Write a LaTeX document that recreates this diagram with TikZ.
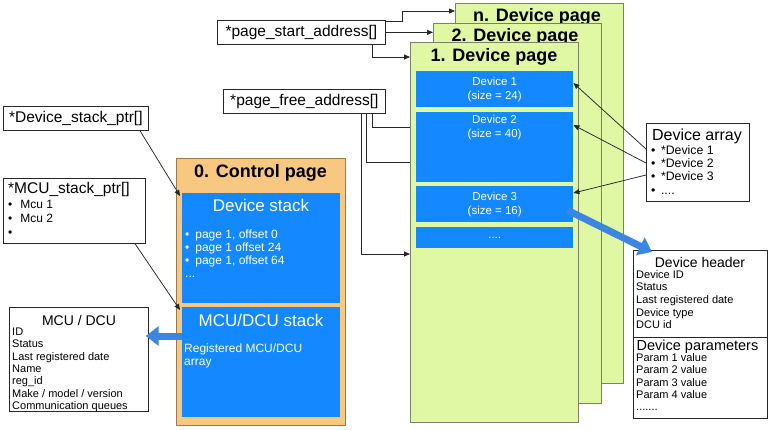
\documentclass[tikz,border=0pt]{standalone}
\usepackage{fontspec}
\setmainfont{Liberation Sans}
\usetikzlibrary{arrows.meta}
\definecolor{pagegreen}{HTML}{E0F8A4}
\definecolor{pageedge}{HTML}{7C8066}
\definecolor{blockblue}{HTML}{1488FF}
\definecolor{ctrlorange}{HTML}{F8C880}
\definecolor{ctrledge}{HTML}{9A7A4A}
\definecolor{fatblue}{HTML}{3A86E2}
\begin{document}
\begin{tikzpicture}[x=1pt,y=-1pt,
  devpage/.style={draw=pageedge,fill=pagegreen,line width=0.9pt,anchor=north west,inner sep=0pt,
    minimum width=167.5pt,minimum height=380pt},
  pagetitle/.style={inner sep=0pt,font=\fontsize{18}{20}\selectfont\bfseries},
  block/.style={fill=blockblue,anchor=north west,inner sep=0pt,minimum width=157pt,
    text=white,align=center,font=\fontsize{11.5}{14}\selectfont},
  stackblock/.style={fill=blockblue,anchor=north west,inner sep=0pt,minimum width=158pt,minimum height=110pt},
  stacktitle/.style={inner sep=0pt,text=white,font=\fontsize{17}{20}\selectfont},
  stacktxt/.style={inner sep=0pt,anchor=mid west,text=white,font=\fontsize{12}{14}\selectfont},
  box/.style={draw=black!85,fill=white,line width=0.7pt,anchor=north west,inner sep=0pt},
  boxtitle/.style={inner sep=0pt,font=\fontsize{15.5}{18}\selectfont},
  subtitle/.style={inner sep=0pt,font=\fontsize{14.5}{17}\selectfont},
  listtxt/.style={inner sep=0pt,anchor=mid west,font=\fontsize{11}{13}\selectfont},
  itemtxt/.style={inner sep=0pt,anchor=mid west,font=\fontsize{12.3}{14}\selectfont},
  ptr/.style={draw=black!85,line width=0.75pt,-{Triangle[length=6pt,width=5pt]}},
  wire/.style={draw=black!85,line width=0.75pt},
  fat/.style={draw=fatblue,line width=7pt,-{Triangle[length=13pt,width=19pt]}}
]
\useasboundingbox (0,0) rectangle (770,429);

% device pages, back to front
\node[devpage] (pn) at (455,3) {};
\node[pagetitle] (pnt) at (537,17) {n. Device page};
\node[devpage] (p2) at (433,23) {};
\node[pagetitle] (p2t) at (515,37) {2. Device page};
\node[devpage] (p1) at (410,42) {};
\node[pagetitle] (p1t) at (494,57) {1. Device page};

\node[block,minimum height=36pt] (d1) at (416,71) {Device 1\\(size = 24)};
\node[block,minimum height=70pt] (d2) at (416,112) {};
\node[inner sep=0pt,text=white,align=center,font=\fontsize{11.5}{14}\selectfont] (d2t) at (494.5,128) {Device 2\\(size = 40)};
\node[block,minimum height=36pt] (d3) at (416,186) {Device 3\\(size = 16)};
\node[block,minimum height=21pt] (d4) at (416,227) {....};

% control page
\node[draw=ctrledge,fill=ctrlorange,line width=0.9pt,anchor=north west,inner sep=0pt,
  minimum width=169pt,minimum height=267pt] (cpage) at (176,158) {};
\node[pagetitle] (cpaget) at (260.5,173) {0. Control page};
\node[stackblock] (dstack) at (182,193) {};
\node[stacktitle] (dstackt) at (261,205) {Device stack};
\foreach \t [count=\i] in {{page 1, offset 0},{page 1 offset 24},{page 1, offset 64}}
  \node[stacktxt] (ds\i) at (185,{223+13*\i}) {•\hspace{6pt}\t};
\node[stacktxt] (dsdots) at (185,275) {...};
\node[stackblock] (mstack) at (182,307) {};
\node[stacktitle] (mstackt) at (261,320) {MCU/DCU stack};
\node[stacktxt] (ms1) at (184,350) {Registered MCU/DCU};
\node[stacktxt] (ms2) at (184,363) {array};

% pointer boxes
\node[box,minimum width=168pt,minimum height=24pt,font=\fontsize{15.5}{18}\selectfont] (pstart) at (217,20) {*page\_start\_address[]};
\node[box,minimum width=162pt,minimum height=24pt,font=\fontsize{15.5}{18}\selectfont] (pfree) at (223,89) {*page\_free\_address[]};
\node[box,minimum width=145pt,minimum height=24pt,font=\fontsize{15.5}{18}\selectfont] (dsp) at (3,106) {*Device\_stack\_ptr[]};
\node[box,minimum width=142pt,minimum height=65pt] (msp) at (3,178) {};
\node[boxtitle,anchor=mid west] (mspt) at (8,191) {*MCU\_stack\_ptr[]};
\foreach \t [count=\i] in {Mcu 1,Mcu 2,{}}
  \node[itemtxt,font=\fontsize{12}{14}\selectfont] (mspi\i) at (8,{192+14*\i}) {•\hspace{8pt}\t};

% MCU / DCU record
\node[box,minimum width=139pt,minimum height=104pt] (mcu) at (9,307) {};
\node[subtitle,font=\fontsize{14}{16}\selectfont] (mcut) at (79,320) {MCU / DCU};
\foreach \t [count=\i] in {ID,Status,Last registered date,Name,reg\_id,Make / model / version,Communication queues}
  \node[listtxt] (mcu\i) at (12,{320.7+12.3*\i}) {\t};

% device array
\node[box,minimum width=103pt,minimum height=78pt] (darr) at (646,123) {};
\node[boxtitle,font=\fontsize{16}{18}\selectfont] (darrt) at (697,136) {Device array};
\foreach \t [count=\i] in {*Device 1,*Device 2,*Device 3}
  \node[itemtxt] (da\i) at (651,{138.4+13.3*\i}) {•\hspace{5.5pt}\t};
\node[itemtxt] (da4) at (651,191.6) {•\hspace{5.5pt}....};

% device record
\node[box,minimum width=134pt,minimum height=168pt] (dhead) at (633,250) {};
\draw[wire] (dhead.west |- 0,337) -- (dhead.east |- 0,337);
\node[subtitle,font=\fontsize{14}{16}\selectfont] (dheadt) at (700,262.5) {Device header};
\foreach \t [count=\i] in {Device ID,Status,Last registered date,Device type,DCU id}
  \node[listtxt] (dh\i) at (636,{263+12.6*\i}) {\t};
\node[subtitle] (dpart) at (697.5,347) {Device parameters};
\foreach \i in {1,2,3,4}
  \node[listtxt] (dp\i) at (636,{346.7+12.3*\i}) {Param \i\ value};
\node[listtxt] (dp5) at (636,408.2) {.......};

% connectors
\draw[ptr] ([yshift=-1.5pt]pstart.north east) -| (402,11) -- (pn.west |- 402,11);
\draw[ptr] (pstart.east) -- (p2.west |- pstart.east);
\draw[ptr] (372,0 |- pstart.south) |- (p1.west |- 0,57);
\draw[wire] (372,0 |- pfree.south) |- (p1.west |- 0,127);
\draw[wire] (366,0 |- pfree.south) |- (p1.west |- 0,162);
\draw[ptr] (361,0 |- pfree.south) |- (p1.west |- 0,254);
\draw[ptr] (darr.west |- 0,149) -- (d1.east |- 0,83);
\draw[ptr] (darr.west |- 0,163) -- (d2.east |- 0,125);
\draw[ptr] (darr.west |- 0,175) -- (d3.east |- 0,193);
\draw[ptr] (140,0 |- dsp.south) -- ([shift={(-2pt,-3pt)}]dstack.north west);
\draw[ptr] (135,0 |- msp.south) -- ([shift={(-2pt,-3pt)}]mstack.north west);
\draw[fat] ([shift={(-6pt,-6pt)}]d3.east) -- ([shift={(19pt,-2pt)}]dhead.north west);
\draw[fat,shorten >=-3pt] (mstack.west |- 0,336) -- (mcu.east |- 0,336);
\end{tikzpicture}
\end{document}
